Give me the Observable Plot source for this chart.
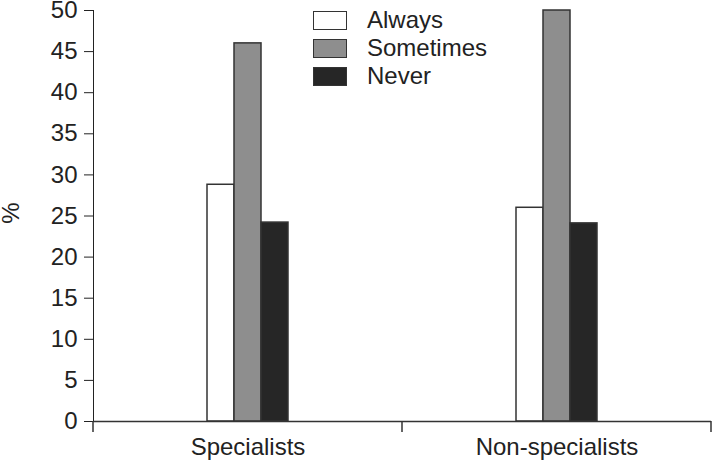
<!DOCTYPE html>
<html>
<head>
<meta charset="utf-8">
<script src="https://cdn.jsdelivr.net/npm/d3@7"></script>
<script src="https://cdn.jsdelivr.net/npm/@observablehq/plot@0.6"></script>
<style>
  html, body { margin: 0; padding: 0; background: #fff; }
  #wrap { position: relative; width: 712px; height: 461px; font-family: "Liberation Sans", Arial, sans-serif; color: #222; }
  #legend { position: absolute; left: 313px; top: 6px; font-size: 24px; line-height: 28px; }
  .row { display: flex; align-items: center; height: 28px; }
  .sw { width: 32px; height: 17px; border: 1.5px solid #333; margin-right: 20px; }
  #ylabel { position: absolute; left: 11px; top: 213px; font-size: 24px; line-height: 18px; transform: translate(-50%, -50%) rotate(-90deg); white-space: nowrap; }
</style>
</head>
<body>
<div id="wrap"></div>
<script>
const groups = ["Specialists", "Non-specialists"];
const series = ["Always", "Sometimes", "Never"];
const specialists = [28.8, 46, 24.2];
const nonSpecialists = [26, 50, 24.1];
const fills = ["#ffffff", "#8e8e8e", "#262626"];
const yTicks = [0, 5, 10, 15, 20, 25, 30, 35, 40, 45, 50];
const yLabel = "%";

const values = [specialists, nonSpecialists];
const data = [];
groups.forEach((g, gi) => series.forEach((s, si) => data.push({group: g, series: s, value: values[gi][si]})));

const chart = Plot.plot({
  width: 712,
  height: 461,
  marginLeft: 93,
  marginRight: 1,
  marginTop: 10,
  marginBottom: 40,
  style: {fontSize: "24px", fontFamily: "'Liberation Sans', Arial, sans-serif", color: "#222", background: "#fff", overflow: "visible"},
  fx: {domain: groups, padding: 0, label: null, tickSize: 0, tickPadding: 16},
  x: {domain: series, paddingInner: 0, paddingOuter: 4.22, axis: null},
  y: {domain: [0, 50], ticks: yTicks, tickSize: 9, tickPadding: 7, line: true, label: null},
  color: {domain: series, range: fills},
  marks: [
    Plot.barY(data, {fx: "group", x: "series", y: "value", fill: "series", stroke: "#333", strokeWidth: 1.5}),
    Plot.ruleY([0], {stroke: "#333", strokeWidth: 1.5})
  ]
});

const wrap = document.getElementById("wrap");
wrap.appendChild(chart);

// boundary ticks on the category axis, positioned from Plot's fx and y scales
const fx = chart.scale("fx");
const y = chart.scale("y");
const y0 = y.apply(0);
const starts = groups.map(g => fx.apply(g));
const offset = 93 - starts[0];
const bounds = [starts[0], ...groups.map(g => fx.apply(g) + fx.bandwidth)];
d3.select(chart).append("g")
  .attr("stroke", "#333").attr("stroke-width", 1.5)
  .selectAll("line").data(bounds).join("line")
  .attr("x1", d => d + offset)
  .attr("x2", d => d + offset)
  .attr("y1", y0).attr("y2", y0 + 11);

// y label
d3.select(wrap).append("div").attr("id", "ylabel").text(yLabel);

// legend
const legend = d3.select(wrap).append("div").attr("id", "legend");
const rows = legend.selectAll("div").data(series).join("div").attr("class", "row");
rows.append("div").attr("class", "sw").style("background", (d, i) => fills[i]);
rows.append("span").text(d => d);
</script>
</body>
</html>
